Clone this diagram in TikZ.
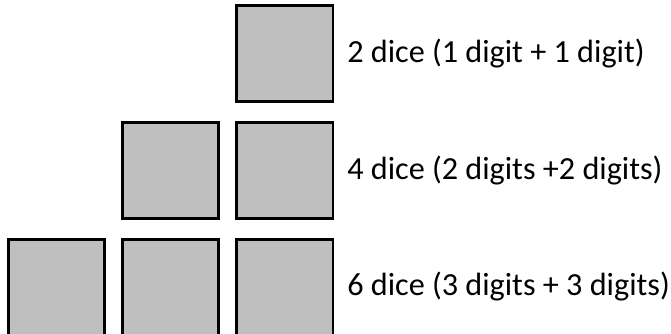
\documentclass[tikz,border=0pt]{standalone}
\usepackage{fontspec}
\setmainfont{Carlito}
\usetikzlibrary{positioning}

\begin{document}
\begin{tikzpicture}[x=1pt, y=1pt,
	die/.style={draw=black, line width=2.6pt, fill=gray!50!white, minimum size=96.5pt, inner sep=0pt, outer sep=0pt},
	lab/.style={font=\fontsize{32.2}{38}\selectfont, inner sep=0pt, anchor=west}]
	\useasboundingbox (0,0) rectangle (671,-333);
	% top row
	\node[die] (t3) at (284.8,-53.5) {};
	% middle row
	\node[die] (m2) at (170.5,-170.5) {};
	\node[die] (m3) at (284.8,-170.5) {};
	% bottom row
	\node[die] (b1) at (56.5,-287.5) {};
	\node[die] (b2) at (170.5,-287.5) {};
	\node[die] (b3) at (284.8,-287.5) {};
	% labels
	\node[lab, right=14pt of t3] (lt) {2 dice (1 digit + 1 digit)};
	\node[lab, right=14pt of m3] (lm) {4 dice (2 digits +2 digits)};
	\node[lab, right=14pt of b3, yshift=1pt] (lb) {6 dice (3 digits + 3 digits)};
\end{tikzpicture}
\end{document}
